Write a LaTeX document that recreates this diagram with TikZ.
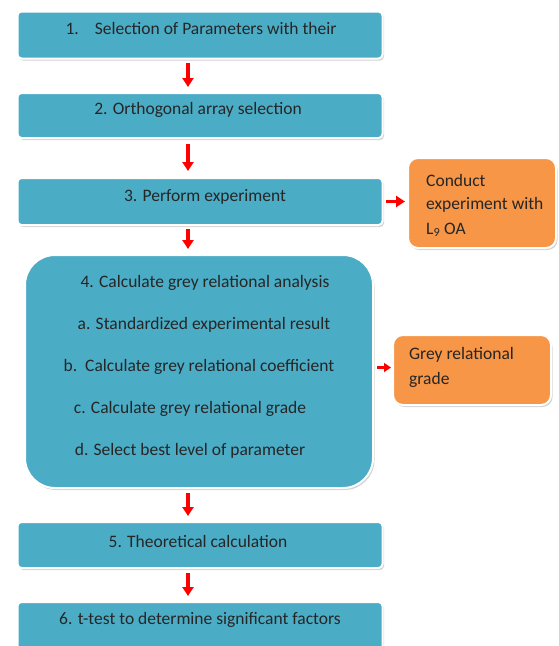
\documentclass[tikz,border=0pt]{standalone}
\usepackage{fontspec}
\setmainfont{Carlito}
\usetikzlibrary{shadows,arrows.meta}
\definecolor{boxblue}{HTML}{4BACC6}
\definecolor{boxorange}{HTML}{F79646}
\definecolor{arrred}{HTML}{FF0000}
\begin{document}
\begin{tikzpicture}[x=1pt,y=-1pt,
  bluebox/.style={rectangle, rounded corners=4pt, fill=boxblue, draw=white, line width=2pt,
    drop shadow={shadow xshift=1.5pt, shadow yshift=-2pt, opacity=0.35, fill=gray}},
  orangebox/.style={rectangle, rounded corners=10pt, fill=boxorange, draw=white, line width=2pt,
    drop shadow={shadow xshift=1.5pt, shadow yshift=-2pt, opacity=0.35, fill=gray}},
  txt/.style={font=\fontsize{17.5}{20}\selectfont, text=black!85, inner sep=0pt},
  flow/.style={draw=arrred, line width=3.5pt, -{Triangle[width=11pt,length=9pt]}}
]
\useasboundingbox (0,0) rectangle (558,646);
\begin{scope}
\clip (0,0) rectangle (558,646);
% blue boxes
\node[bluebox, minimum width=365pt, minimum height=47pt] (b1) at (200,35) {};
\node[bluebox, minimum width=365pt, minimum height=45pt] (b2) at (200,115.5) {};
\node[bluebox, minimum width=365pt, minimum height=47pt] (b3) at (200,201.5) {};
\node[bluebox, rounded corners=30pt, minimum width=348pt, minimum height=233pt] (b4) at (199,371.5) {};
\node[bluebox, minimum width=365pt, minimum height=46pt] (b5) at (200,545) {};
\node[bluebox, minimum width=365pt, minimum height=50pt] (b6) at (200,627) {};
% orange boxes
\node[orangebox, minimum width=148pt, minimum height=90pt] (o1) at (482,203) {};
\node[orangebox, minimum width=158pt, minimum height=70pt] (o2) at (472,370) {};
% texts
\node[txt] (t1) at (201,28) {1.\hspace{16pt}Selection of Parameters with their};
\node[txt] (t2) at (198,110) {2. Orthogonal array selection};
\node[txt] (t3) at (205,197) {3. Perform experiment};
\node[txt] (t4) at (205,283) {4. Calculate grey relational analysis};
\node[txt] (t4a) at (204,325) {a. Standardized experimental result};
\node[txt] (t4b) at (199,367) {b.\ \ Calculate grey relational coefficient};
\node[txt] (t4c) at (190,409) {c. Calculate grey relational grade};
\node[txt] (t4d) at (190,451) {d. Select best level of parameter};
\node[txt] (t5) at (198,541) {5. Theoretical calculation};
\node[txt] (t6) at (200,620) {6. t-test to determine significant factors};
\node[txt, anchor=west] (to1a) at (426,180) {Conduct};
\node[txt, anchor=west] (to1b) at (426,205) {experiment with};
\node[txt, anchor=west] (to1c) at (426,230) {L\textsubscript{9} OA};
\node[txt, anchor=west] (to2a) at (409,355) {Grey relational};
\node[txt, anchor=west] (to2b) at (409,380) {grade};
% arrows
\draw[flow] ([xshift=-12pt,yshift=-3pt]b1.south) -- ([xshift=-12pt,yshift=5pt]b2.north);
\draw[flow] ([xshift=-12pt,yshift=-5pt]b2.south) -- ([xshift=-12pt,yshift=6pt]b3.north);
\draw[flow] ([xshift=-12pt,yshift=-3pt]b3.south) -- ([xshift=-11pt,yshift=5pt]b4.north);
\draw[flow] ([xshift=-11pt,yshift=-4pt]b4.south) -- ([xshift=-12pt,yshift=5pt]b5.north);
\draw[flow] ([xshift=-12pt,yshift=-4pt]b5.south) -- ([xshift=-12pt,yshift=5pt]b6.north);
\draw[flow] ([xshift=2pt]b3.east) -- ([xshift=-2pt]b3.east -| o1.west);
\draw[draw=arrred, line width=2.5pt, -{Triangle[width=9pt,length=7pt]}]
  ([xshift=3pt,yshift=4pt]b4.east) -- ([xshift=-1pt,yshift=4pt]b4.east -| o2.west);
\end{scope}
\end{tikzpicture}
\end{document}
